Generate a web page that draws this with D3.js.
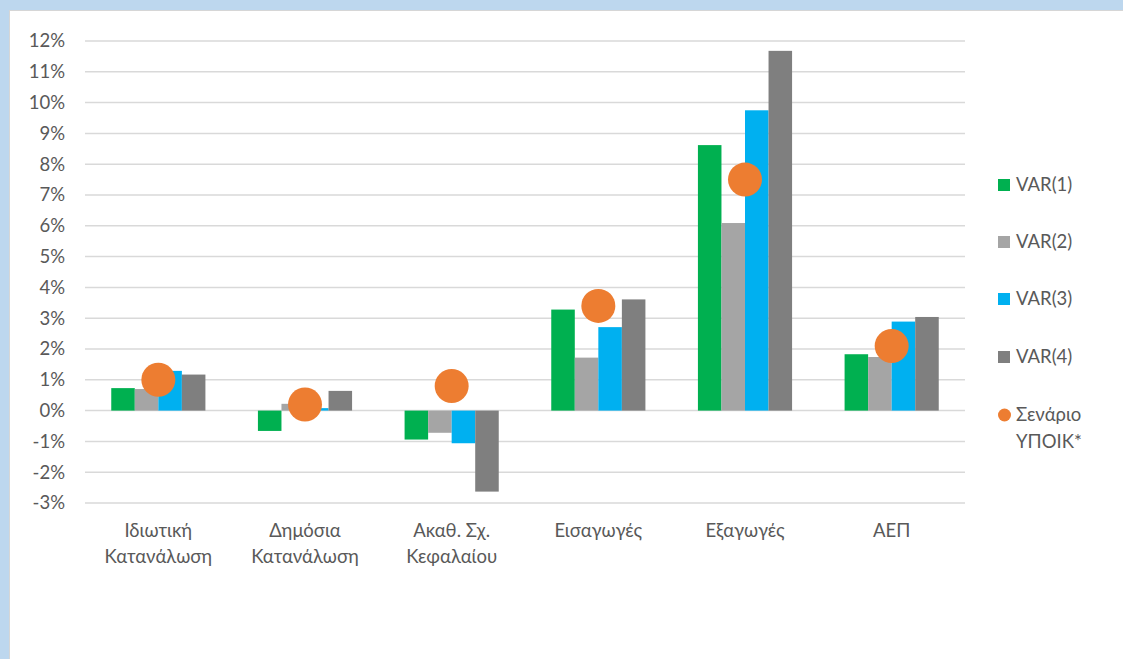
<!DOCTYPE html>
<html>
<head>
<meta charset="utf-8">
<script src="https://cdn.jsdelivr.net/npm/d3@7"></script>
<style>
  html, body { margin: 0; padding: 0; background: #bdd7ee; }
  svg { display: block; }
  text { font-family: Lato, "Open Sans", sans-serif; fill: #595959; }
</style>
</head>
<body>
<svg id="chart" width="1123" height="659"></svg>
<script>
// Categories (two-line labels where the text wraps)
const categories = [
  ["Ιδιωτική", "Κατανάλωση"],
  ["Δημόσια", "Κατανάλωση"],
  ["Ακαθ. Σχ.", "Κεφαλαίου"],
  ["Εισαγωγές"],
  ["Εξαγωγές"],
  ["ΑΕΠ"]
];
// Series values, in percent
const var1 = [0.73, -0.66, -0.94, 3.28, 8.62, 1.83];
const var2 = [0.70, 0.22, -0.72, 1.72, 6.09, 1.74];
const var3 = [1.29, 0.08, -1.06, 2.71, 9.75, 2.89];
const var4 = [1.17, 0.64, -2.63, 3.61, 11.68, 3.04];
const scenario = [1.0, 0.2, 0.8, 3.4, 7.5, 2.1];
// Axis ticks
const yTicks = [-3, -2, -1, 0, 1, 2, 3, 4, 5, 6, 7, 8, 9, 10, 11, 12];

const barSeries = [
  { name: "VAR(1)", values: var1, color: "#00b050" },
  { name: "VAR(2)", values: var2, color: "#a5a5a5" },
  { name: "VAR(3)", values: var3, color: "#00b0f0" },
  { name: "VAR(4)", values: var4, color: "#7f7f7f" }
];
const dotSeries = { name: ["Σενάριο", "ΥΠΟΙΚ*"], values: scenario, color: "#ed7d31" };

const svg = d3.select("#chart");

// Panel background with thin frame on top and left
svg.append("rect").attr("x", 10).attr("y", 11).attr("width", 1113).attr("height", 648).attr("fill", "#ffffff");
svg.append("line").attr("x1", 9.5).attr("x2", 9.5).attr("y1", 10).attr("y2", 659).attr("stroke", "#d6d6d6").attr("stroke-width", 1);
svg.append("line").attr("x1", 9).attr("x2", 1123).attr("y1", 10.5).attr("y2", 10.5).attr("stroke", "#d6d6d6").attr("stroke-width", 1);

const plot = { left: 85, right: 965, top: 41, bottom: 503 };

const x = d3.scaleBand()
  .domain(d3.range(categories.length))
  .range([plot.left, plot.right])
  .paddingInner(0).paddingOuter(0);

const groupWidth = x.bandwidth() * 0.642;
const xInner = d3.scaleBand()
  .domain(barSeries.map(s => s.name))
  .range([0, groupWidth]);

const y = d3.scaleLinear().domain([-3, 12]).range([plot.bottom, plot.top]);

// Gridlines
svg.append("g").selectAll("line").data(yTicks).join("line")
  .attr("x1", plot.left).attr("x2", plot.right)
  .attr("y1", d => y(d)).attr("y2", d => y(d))
  .attr("stroke", "#d9d9d9").attr("stroke-width", 1.5);

// Y axis labels
const yAxis = svg.append("g")
  .attr("transform", `translate(${plot.left},0)`)
  .call(d3.axisLeft(y).tickValues(yTicks).tickFormat(d => d + "%").tickSize(0).tickPadding(20));
yAxis.select(".domain").remove();
yAxis.selectAll("text").attr("font-size", 18.5).attr("font-family", "Lato, sans-serif").attr("fill", "#595959");

// Bars
const groups = svg.append("g").selectAll("g").data(categories.map((c, i) => i)).join("g")
  .attr("transform", i => `translate(${x(i) + (x.bandwidth() - groupWidth) / 2},0)`);

groups.selectAll("rect").data(i => barSeries.map(s => ({ s, v: s.values[i] }))).join("rect")
  .attr("x", d => xInner(d.s.name))
  .attr("width", xInner.bandwidth())
  .attr("y", d => y(Math.max(0, d.v)))
  .attr("height", d => Math.abs(y(d.v) - y(0)))
  .attr("fill", d => d.s.color);

// Scenario dots
svg.append("g").selectAll("circle").data(dotSeries.values).join("circle")
  .attr("cx", (d, i) => x(i) + x.bandwidth() / 2)
  .attr("cy", d => y(d))
  .attr("r", 17)
  .attr("fill", dotSeries.color);

// Category labels
const xAxis = svg.append("g")
  .attr("transform", `translate(0,${plot.bottom})`)
  .call(d3.axisBottom(x).tickSize(0).tickFormat(""));
xAxis.select(".domain").remove();
xAxis.selectAll(".tick").each(function (i) {
  const t = d3.select(this).append("text")
    .attr("text-anchor", "middle")
    .attr("font-size", 18.5)
    .attr("fill", "#595959")
    .attr("y", 34);
  categories[i].forEach((line, k) => {
    t.append("tspan").attr("x", 0).attr("dy", k === 0 ? 0 : 26).text(line);
  });
});

// Legend
const legendX = 998;
const legendY = [185, 242, 299, 357];
const legend = svg.append("g");
barSeries.forEach((s, k) => {
  legend.append("rect").attr("x", legendX).attr("y", legendY[k] - 6).attr("width", 12).attr("height", 12).attr("fill", s.color);
  legend.append("text").attr("x", legendX + 18).attr("y", legendY[k]).attr("dy", "0.35em")
    .attr("font-size", 18.5).text(s.name);
});
legend.append("circle").attr("cx", legendX + 6.5).attr("cy", 415).attr("r", 6.5).attr("fill", dotSeries.color);
const lt = legend.append("text").attr("x", legendX + 18).attr("y", 415).attr("dy", "0.35em").attr("font-size", 18.5);
dotSeries.name.forEach((line, k) => {
  lt.append("tspan").attr("x", legendX + 18).attr("dy", k === 0 ? "0.35em" : 27).text(line);
});
lt.attr("dy", null);
</script>
</body>
</html>
